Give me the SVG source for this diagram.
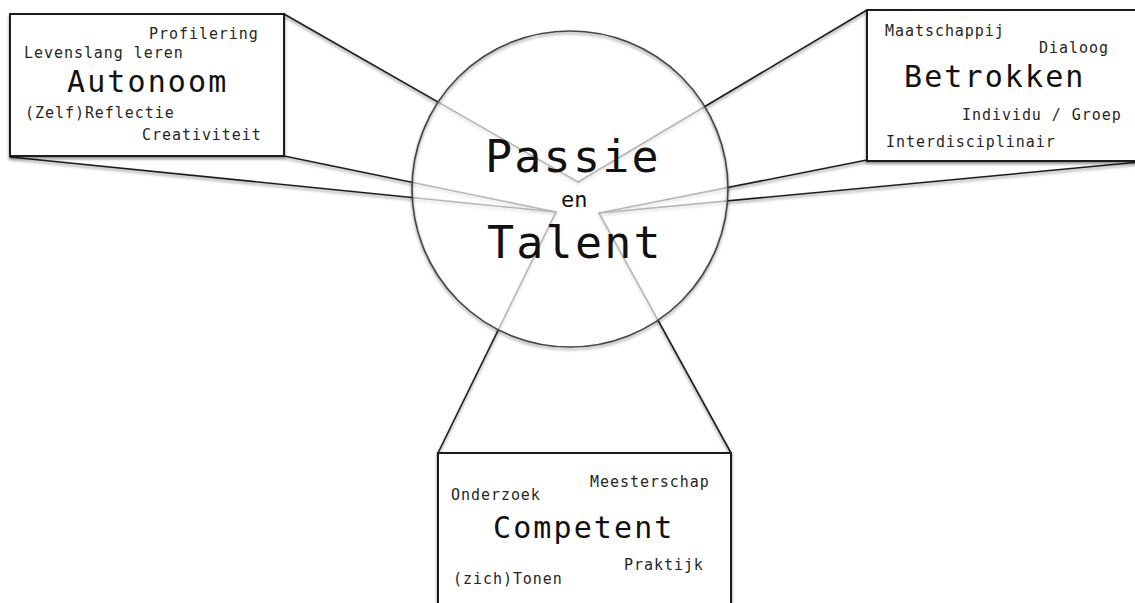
<svg xmlns="http://www.w3.org/2000/svg" width="1135" height="603" viewBox="0 0 1135 603">
  <defs>
    <filter id="shadow" x="-10%" y="-10%" width="120%" height="130%">
      <feDropShadow dx="0" dy="2" stdDeviation="1.4" flood-color="#000" flood-opacity="0.45"/>
    </filter>
    <style>
      .conn { stroke: #1e1e1e; stroke-width: 1.6; fill: none; stroke-linecap: round; }
      .box { fill: #ffffff; stroke: #1e1e1e; stroke-width: 2; }
      .t { font-family: "DejaVu Sans Mono", "Liberation Mono", monospace; fill: #111; }
      .small { font-size: 15px; letter-spacing: 0.95px; fill: #262626; }
      .title { font-size: 30px; letter-spacing: 2.1px; }
      .big { font-size: 45px; letter-spacing: 2.2px; }
      .en { font-size: 22px; }
    </style>
  </defs>
  <rect width="1135" height="603" fill="#ffffff"/>

  <g id="connectors" filter="url(#shadow)">
    <line class="conn" x1="284" y1="14" x2="578" y2="182"/>
    <line class="conn" x1="867" y1="10" x2="578" y2="182"/>
    <line class="conn" x1="284" y1="156" x2="556" y2="212"/>
    <line class="conn" x1="10" y1="157" x2="556" y2="212"/>
    <line class="conn" x1="556" y1="212" x2="438" y2="453"/>
    <line class="conn" x1="867" y1="160" x2="599" y2="213"/>
    <line class="conn" x1="1140" y1="162" x2="599" y2="213"/>
    <line class="conn" x1="599" y1="213" x2="731" y2="453"/>
  </g>

  <g id="autonoom">
    <rect class="box" x="10" y="14" width="274" height="142" filter="url(#shadow)"/>
    <text class="t small" x="149" y="39">Profilering</text>
    <text class="t small" x="24" y="58">Levenslang leren</text>
    <text class="t title" x="67" y="92">Autonoom</text>
    <text class="t small" x="25" y="118">(Zelf)Reflectie</text>
    <text class="t small" x="142" y="140">Creativiteit</text>
  </g>

  <g id="betrokken">
    <rect class="box" x="867" y="10" width="280" height="151" filter="url(#shadow)"/>
    <text class="t small" x="885" y="36">Maatschappij</text>
    <text class="t small" x="1039" y="53">Dialoog</text>
    <text class="t title" x="904" y="87">Betrokken</text>
    <text class="t small" x="962" y="120">Individu / Groep</text>
    <text class="t small" x="886" y="147">Interdisciplinair</text>
  </g>

  <g id="competent">
    <rect class="box" x="438" y="453" width="293" height="170" filter="url(#shadow)"/>
    <text class="t small" x="590" y="487">Meesterschap</text>
    <text class="t small" x="451" y="500">Onderzoek</text>
    <text class="t title" x="493" y="538">Competent</text>
    <text class="t small" x="624" y="570">Praktijk</text>
    <text class="t small" x="453" y="584">(zich)Tonen</text>
  </g>

  <g id="passie-en-talent">
    <circle cx="570" cy="189" r="158" fill="#ffffff" fill-opacity="0.68"/>
    <circle cx="570" cy="189" r="158" fill="none" stroke="#444" stroke-width="1.6" filter="url(#shadow)"/>
    <text class="t big" x="485" y="172">Passie</text>
    <text class="t en" x="561" y="207">en</text>
    <text class="t big" x="487" y="258">Talent</text>
  </g>
</svg>
